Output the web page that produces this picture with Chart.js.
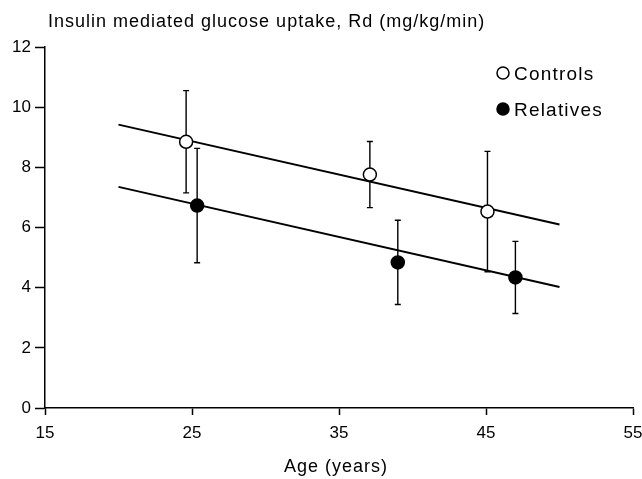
<!DOCTYPE html>
<html>
<head>
<meta charset="utf-8">
<script src="https://cdn.jsdelivr.net/npm/chart.js@4/dist/chart.umd.min.js"></script>
<style>
  body { margin: 0; background: #fff; }
  #rd-chart { display: block; }
</style>
</head>
<body>
<canvas id="rd-chart" width="642" height="479"></canvas>
<script>
// DATA
const controlAge = [24.6, 37.1, 45.1];
const controlRd = [8.85, 7.76, 6.53];
const controlSD = [1.7, 1.1, 2.0];

const relativeAge = [25.35, 39.0, 47.0];
const relativeRd = [6.73, 4.84, 4.34];
const relativeSD = [1.9, 1.4, 1.2];

// regression lines
const fitAge = [20, 50];
const controlFit = [9.42, 6.10];
const relativeFit = [7.35, 4.02];

const ageTicks = [15, 25, 35, 45, 55];
const rdTicks = [0, 2, 4, 6, 8, 10, 12];

const titleText = 'Insulin mediated glucose uptake, Rd (mg/kg/min)';
const xTitleText = 'Age (years)';
const legendNames = ['Controls', 'Relatives'];

const FONT = '"Liberation Sans", Arial, Helvetica, sans-serif';

function toPoints(xs, ys) {
    return xs.map((x, i) => ({ x: x, y: ys[i] }));
}

// error bars, drawn behind the markers
const errorBars = {
    id: 'errorBars',
    beforeDatasetsDraw(chart) {
        const ctx = chart.ctx;
        const xs = chart.scales.x, ys = chart.scales.y;
        const sets = [[controlAge, controlRd, controlSD], [relativeAge, relativeRd, relativeSD]];
        ctx.save();
        ctx.strokeStyle = '#000';
        ctx.lineWidth = 1.4;
        sets.forEach(s => {
            s[0].forEach((age, i) => {
                const px = xs.getPixelForValue(age);
                const top = ys.getPixelForValue(s[1][i] + s[2][i]);
                const bot = ys.getPixelForValue(s[1][i] - s[2][i]);
                ctx.beginPath();
                ctx.moveTo(px, top); ctx.lineTo(px, bot);
                ctx.moveTo(px - 3, top); ctx.lineTo(px + 3, top);
                ctx.moveTo(px - 3, bot); ctx.lineTo(px + 3, bot);
                ctx.stroke();
            });
        });
        ctx.restore();
    }
};

// title, x axis title and legend
const textLayer = {
    id: 'textLayer',
    afterDraw(chart) {
        const ctx = chart.ctx;
        const area = chart.chartArea;
        ctx.save();
        ctx.fillStyle = '#000';
        ctx.textBaseline = 'middle';

        ctx.letterSpacing = '1px';
        ctx.font = '18px ' + FONT;
        ctx.textAlign = 'left';
        ctx.fillText(titleText, 48, 22);

        ctx.textAlign = 'center';
        ctx.fillText(xTitleText, (area.left + area.right) / 2 - 3, 467);

        // legend
        ctx.letterSpacing = '1.2px';
        ctx.font = '19px ' + FONT;
        ctx.textAlign = 'left';
        const rows = [73, 109];
        ctx.lineWidth = 1.5;
        ctx.strokeStyle = '#000';
        rows.forEach((y, i) => {
            ctx.beginPath();
            ctx.arc(503, y, 6, 0, Math.PI * 2);
            ctx.fillStyle = i === 0 ? '#fff' : '#000';
            ctx.fill();
            ctx.stroke();
            ctx.fillStyle = '#000';
            ctx.fillText(legendNames[i], 514, y + 2);
        });
        ctx.restore();
    }
};

var rdChart;
function loadRdChart() {
    var context = document.getElementById('rd-chart').getContext('2d');
    rdChart = new Chart(context, {
        type: 'scatter',
        data: {
            datasets: [{
                label: legendNames[0],
                data: toPoints(controlAge, controlRd),
                pointRadius: 6.5,
                pointBorderWidth: 1.5,
                borderColor: '#000',
                backgroundColor: '#fff'
            }, {
                label: legendNames[1],
                data: toPoints(relativeAge, relativeRd),
                pointRadius: 6.5,
                pointBorderWidth: 1.5,
                borderColor: '#000',
                backgroundColor: '#000'
            }, {
                type: 'line',
                label: 'Controls fit',
                data: toPoints(fitAge, controlFit),
                borderColor: '#000',
                borderWidth: 2,
                pointRadius: 0,
                fill: false
            }, {
                type: 'line',
                label: 'Relatives fit',
                data: toPoints(fitAge, relativeFit),
                borderColor: '#000',
                borderWidth: 2,
                pointRadius: 0,
                fill: false
            }]
        },
        options: {
            responsive: false,
            animation: false,
            layout: { padding: { top: 47, left: 0, right: 0, bottom: 0 } },
            plugins: {
                legend: { display: false },
                tooltip: { enabled: false }
            },
            scales: {
                x: {
                    type: 'linear',
                    min: ageTicks[0],
                    max: ageTicks[ageTicks.length - 1],
                    afterBuildTicks: scale => { scale.ticks = ageTicks.map(v => ({ value: v })); },
                    afterFit: scale => {
                        scale.height = 71;
                        scale.paddingLeft = 0;
                        scale.paddingRight = 9;
                    },
                    border: { display: true, color: '#000', width: 1.5 },
                    grid: { drawOnChartArea: false, tickLength: 7, tickColor: '#000', tickWidth: 1.5 },
                    ticks: { color: '#000', padding: 8, maxRotation: 0, font: { family: FONT, size: 17 } }
                },
                y: {
                    min: rdTicks[0],
                    max: rdTicks[rdTicks.length - 1],
                    afterBuildTicks: scale => { scale.ticks = rdTicks.map(v => ({ value: v })); },
                    afterFit: scale => { scale.width = 45; },
                    border: { display: true, color: '#000', width: 1.5 },
                    grid: { drawOnChartArea: false, tickLength: 10, tickColor: '#000', tickWidth: 1.5 },
                    ticks: { color: '#000', padding: 4, font: { family: FONT, size: 17 } }
                }
            }
        },
        plugins: [errorBars, textLayer]
    });
}

loadRdChart();
</script>
</body>
</html>
